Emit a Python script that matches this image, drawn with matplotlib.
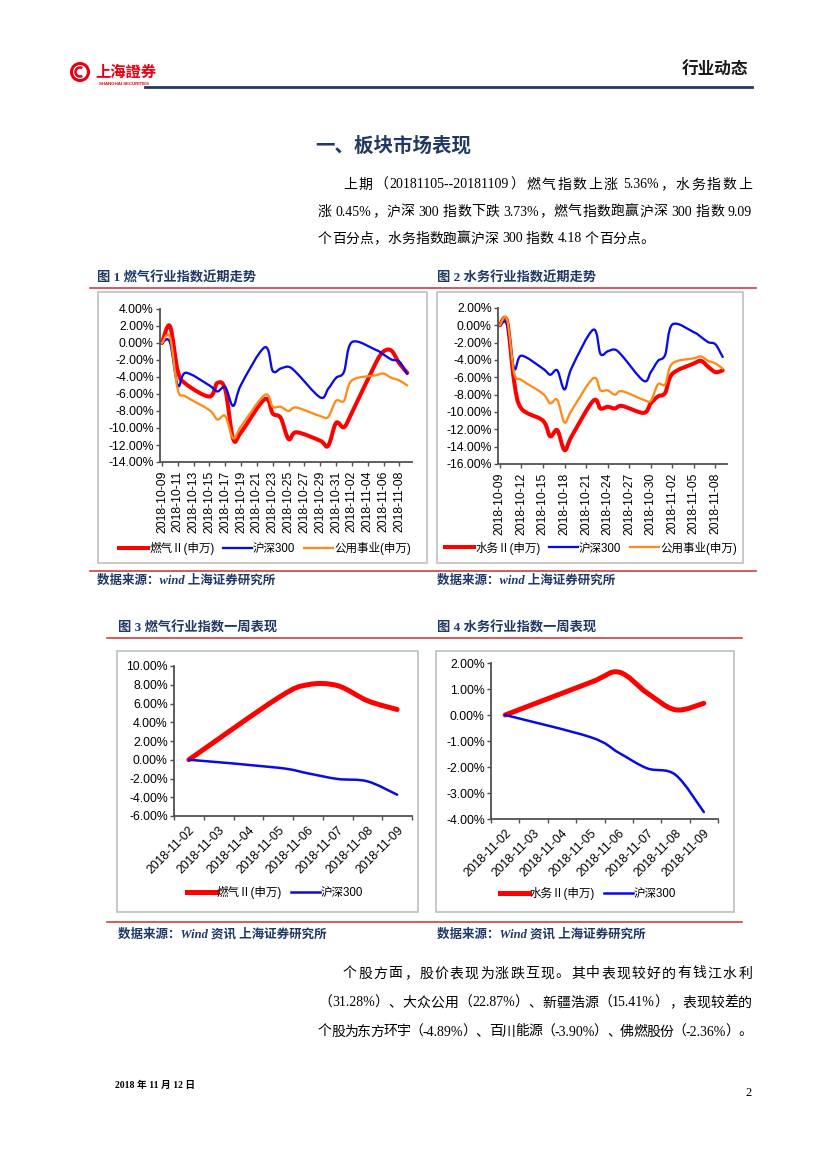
import re
import numpy as np
import matplotlib
matplotlib.use("Agg")
import matplotlib.pyplot as plt
import matplotlib.dates as mdates
from matplotlib.path import Path
from matplotlib.patches import PathPatch, Rectangle, Circle, Arc
from matplotlib.lines import Line2D
from matplotlib.ticker import FuncFormatter

plt.rcParams['font.family'] = ['Liberation Sans', 'Noto Sans CJK SC', 'DejaVu Sans']

# ---- data ----
dates_m = np.array(['2018-10-09', '2018-10-10', '2018-10-11', '2018-10-12', '2018-10-15',
                    '2018-10-16', '2018-10-17', '2018-10-18', '2018-10-19', '2018-10-22',
                    '2018-10-23', '2018-10-24', '2018-10-25', '2018-10-26', '2018-10-29',
                    '2018-10-30', '2018-10-31', '2018-11-01', '2018-11-02', '2018-11-05',
                    '2018-11-06', '2018-11-07', '2018-11-08', '2018-11-09'], dtype='datetime64[D]')
gas_m = [0.0, 2.0, -3.3, -4.8, -6.3, -4.7, -5.5, -11.3, -10.5, -6.6, -8.3, -8.8,
         -11.3, -10.5, -11.5, -12.1, -9.4, -9.9, -8.2, -2.4, -1.0, -0.9, -2.4, -3.5]
water_m = [0.0, 0.5, -6.5, -9.6, -11.0, -12.8, -12.1, -14.4, -12.8, -8.7, -9.6, -9.4,
           -9.6, -9.3, -10.1, -9.0, -8.2, -7.8, -5.6, -4.4, -4.1, -4.8, -5.4, -5.2]
hs300_m = [0.0, 0.1, -5.0, -3.5, -5.0, -5.7, -5.2, -7.4, -4.9, -0.5, -3.3, -3.0,
           -2.8, -3.5, -6.4, -5.4, -4.1, -3.4, 0.1, -0.8, -1.35, -1.95, -2.2, -3.65]
util_m = [0.0, 0.7, -5.5, -6.3, -7.9, -9.0, -8.6, -11.2, -9.8, -6.1, -7.5, -7.5,
          -8.0, -7.6, -8.6, -8.7, -6.8, -6.8, -4.4, -3.8, -3.6, -4.1, -4.4, -5.0]

dates_w = np.array(['2018-11-02', '2018-11-05', '2018-11-06', '2018-11-07',
                    '2018-11-08', '2018-11-09'], dtype='datetime64[D]')
gas_w = [0.0, 6.6, 8.0, 7.9, 6.3, 5.36]
water_w = [0.0, 1.25, 1.65, 0.85, 0.2, 0.45]
hs300_w = [0.0, -0.85, -1.45, -2.05, -2.3, -3.73]

RED, BLUE, ORANGE = '#FF0000', '#0A0AE6', '#FF8C1A'
NAVY = '#1F3864'
LINE_RED = '#D04040'

W, H = 827, 1169
fig = plt.figure(figsize=(8.27, 11.69), dpi=100)
rend = fig.canvas.get_renderer()


def fx(x):
    return x / W


def fy(y):
    return 1 - y / H


def add_ax(l, t, r, b):
    return fig.add_axes([fx(l), fy(b), (r - l) / W, (b - t) / H])


def hline(x0, x1, y, color, lw):
    fig.add_artist(Line2D([fx(x0), fx(x1)], [fy(y), fy(y)], color=color, lw=lw))


def frame(l, t, r, b):
    fig.add_artist(Rectangle((fx(l), fy(b)), (r - l) / W, (b - t) / H,
                             fill=False, ec='#BFBFBF', lw=1.2))


def txt(x, y, s, **kw):
    kw.setdefault('va', 'center')
    fig.text(fx(x), fy(y), s, **kw)


PARA = dict(fontsize=10, family=['Liberation Serif', 'Noto Sans CJK SC'])


def justify(x0, x1, y, s):
    # body text line, spread between x0 and x1 like the justified paragraph
    toks, spaced = [], []
    for m in re.finditer(r'[A-Za-z0-9.%\-]+|\S', s):
        spaced.append(m.start() > 0 and s[m.start() - 1] == ' ')
        toks.append(m.group())
    ts = [fig.text(0, 0, t, va='baseline', **PARA) for t in toks]
    ws = [t.get_window_extent(rend).width for t in ts]
    extra = [3.5 if sp else 0.0 for sp in spaced[1:]]
    gap = 0.0 if x1 is None else (x1 - x0 - sum(ws) - sum(extra)) / (len(ts) - 1)
    x = x0
    for i, (t, w) in enumerate(zip(ts, ws)):
        t.set_position((fx(x), fy(y + 4.5)))
        if i < len(extra):
            x += w + gap + extra[i]


def smooth(ax, x, y, color, lw):
    # excel style smoothed line: cubic bezier through the points
    p = np.column_stack([x, y]).astype(float)
    n = len(p)
    verts, codes = [p[0]], [Path.MOVETO]
    for i in range(n - 1):
        p0 = p[i - 1] if i > 0 else p[i]
        p3 = p[i + 2] if i + 2 < n else p[i + 1]
        verts += [p[i] + (p[i + 1] - p0) / 6, p[i + 1] - (p3 - p[i]) / 6, p[i + 1]]
        codes += [Path.CURVE4] * 3
    ax.add_patch(PathPatch(Path(verts, codes), fill=False, ec=color, lw=lw,
                           capstyle='round', joinstyle='round'))


def style(ax):
    for s in ['top', 'right']:
        ax.spines[s].set_visible(False)
    for s in ['left', 'bottom']:
        ax.spines[s].set_color('#505050')
        ax.spines[s].set_linewidth(1.3)
    ax.set_facecolor('none')
    ax.tick_params(direction='out', length=3, width=1, color='#505050',
                   labelsize=8.8, pad=1.5)
    ax.yaxis.set_major_formatter(FuncFormatter(lambda v, _: f'{v:.2f}%'))


def legend(cx, cy, items, lws):
    hs = [Line2D([], [], color=c, lw=w) for (c, _), w in zip(items, lws)]
    fig.legend(hs, [l for _, l in items], loc='center', bbox_to_anchor=(fx(cx), fy(cy)),
               ncol=len(items), frameon=False, fontsize=8.3, handlelength=2.5,
               handletextpad=0.1, columnspacing=0.75, borderpad=0)


# ---- header ----
lg = add_ax(66, 58, 170, 90)
lg.set_xlim(66, 170)
lg.set_ylim(90, 58)
lg.axis('off')
lg.add_patch(Circle((80, 72), 8.5, fill=False, ec='#E60012', lw=2.2))
lg.add_patch(Arc((80, 72), 9, 9, theta1=60, theta2=300, ec='#E60012', lw=1.8))
lg.text(95, 72, '上海證券', color='#E60012', fontsize=11, fontweight='bold',
        va='center', family=['Noto Sans CJK SC'])
lg.text(99, 84, 'SHANGHAI SECURITIES', color='#E60012', fontsize=3.2,
        fontweight='bold', va='center')
txt(748, 70, '行业动态', ha='right', fontsize=12, fontweight='bold', color='#1a1a1a',
    family=['Noto Sans CJK SC'])
hline(145, 752, 87, NAVY, 2)

txt(393, 146, '一、板块市场表现', ha='center', fontsize=14, fontweight='bold', color=NAVY,
    family=['Noto Sans CJK SC'])
justify(343, 752, 184, '上期（20181105--20181109）燃气指数上涨 5.36%，水务指数上')
justify(318, 752, 211, '涨 0.45%，沪深 300 指数下跌 3.73%，燃气指数跑赢沪深 300 指数 9.09')
justify(318, None, 238, '个百分点，水务指数跑赢沪深 300 指数 4.18 个百分点。')

cap = dict(fontsize=9.5, fontweight='bold', color=NAVY, family=['Liberation Serif', 'Noto Sans CJK SC'])
src = dict(fontsize=9, fontweight='bold', style='italic', color=NAVY,
           family=['Liberation Serif', 'Noto Sans CJK SC'])
txt(97, 278, '图 1 燃气行业指数近期走势', **cap)
txt(437, 278, '图 2 水务行业指数近期走势', **cap)
hline(90, 756, 288, LINE_RED, 1.2)
frame(98, 292, 427, 563)
frame(437, 292, 743, 563)
hline(90, 756, 571, LINE_RED, 1.2)
txt(97, 581, '数据来源：wind 上海证券研究所', **src)
txt(437, 581, '数据来源：wind 上海证券研究所', **src)

txt(118, 628, '图 3 燃气行业指数一周表现', **cap)
txt(437, 628, '图 4 水务行业指数一周表现', **cap)
hline(107, 742, 638, LINE_RED, 1.2)
frame(117, 651, 418, 912)
frame(436, 651, 734, 912)
hline(107, 742, 922, LINE_RED, 1.2)
txt(118, 934, '数据来源：Wind 资讯 上海证券研究所', **src)
txt(437, 934, '数据来源：Wind 资讯 上海证券研究所', **src)

justify(343, 752, 973, '个股方面，股价表现为涨跌互现。其中表现较好的有钱江水利')
justify(318, 752, 1002, '（31.28%）、大众公用（22.87%）、新疆浩源（15.41%），表现较差的')
justify(318, 752, 1031, '个股为东方环宇（-4.89%）、百川能源（-3.90%）、佛燃股份（-2.36%）。')

txt(115, 1085, '2018 年 11 月 12 日', fontsize=7, fontweight='bold',
    family=['Liberation Serif', 'Noto Sans CJK SC'])
txt(745, 1093, '2', fontsize=9, family=['Liberation Serif'])

# ---- chart 1 / chart 2 : recent trend ----
xm = mdates.date2num(dates_m)
d0 = xm[0]


def trend(box, main, main_lbl, yr, step, lg_c):
    ax = add_ax(*box)
    style(ax)
    smooth(ax, xm, main, RED, 2.9)
    smooth(ax, xm, hs300_m, BLUE, 1.65)
    smooth(ax, xm, util_m, ORANGE, 1.65)
    ax.set_xlim(d0 - 0.25, d0 + 31.6)
    ax.set_ylim(*yr)
    ax.set_yticks(np.arange(yr[0], yr[1] + 0.1, 2))
    ticks = np.arange(dates_m[0], dates_m[-1], step)
    ax.set_xticks(mdates.date2num(ticks))
    ax.set_xticklabels([str(t) for t in ticks], rotation=90)
    ax.tick_params(axis='x', pad=3)
    legend(lg_c[0], lg_c[1], [(RED, main_lbl), (BLUE, '沪深300'), (ORANGE, '公用事业(申万)')],
           [2.9, 1.65, 1.65])
    return ax


trend((160, 309, 412, 462), gas_m, '燃气Ⅱ(申万)', (-14, 4), 2, (265, 548))
trend((498, 308, 727, 464), water_m, '水务Ⅱ(申万)', (-16, 2), 3, (591, 548))

# ---- chart 3 / chart 4 : one week ----
xw = mdates.date2num(dates_w)
days_w = np.arange(dates_w[0], dates_w[-1] + 1)


def week(box, main, main_lbl, yr, step, lg_c):
    ax = add_ax(*box)
    style(ax)
    smooth(ax, xw, main, RED, 3.6)
    smooth(ax, xw, hs300_w, BLUE, 1.8)
    ax.set_xlim(xw[0] - 0.5, xw[-1] + 0.5)
    ax.set_ylim(*yr)
    ax.set_yticks(np.arange(yr[0], yr[1] + 0.01, step))
    c = mdates.date2num(days_w)
    ax.set_xticks(np.append(c - 0.5, c[-1] + 0.5))
    ax.set_xticklabels([])
    ax.set_xticks(c, minor=True)
    ax.set_xticklabels([str(d) for d in days_w], minor=True, rotation=45,
                       ha='right', rotation_mode='anchor')
    ax.tick_params(axis='x', which='minor', length=0, pad=6, labelsize=8.8)
    legend(lg_c[0], lg_c[1], [(RED, main_lbl), (BLUE, '沪深300')], [3.6, 1.8])
    return ax


week((174, 666, 412, 816), gas_w, '燃气Ⅱ(申万)', (-6, 10), 2, (275, 892))
week((491, 663, 718, 819), water_w, '水务Ⅱ(申万)', (-4, 2), 1, (588, 894))

fig.savefig('out.png', dpi=100)
